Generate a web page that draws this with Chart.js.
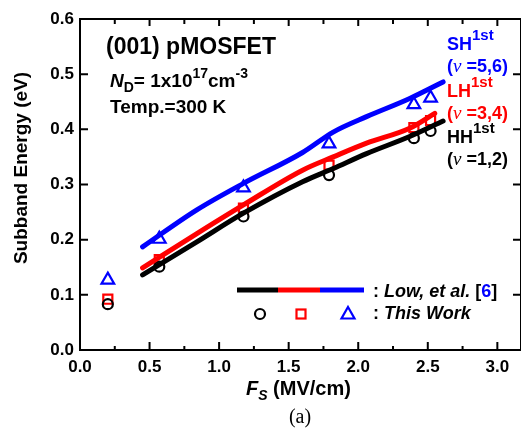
<!DOCTYPE html>
<html>
<head>
<meta charset="utf-8">
<script src="https://cdn.jsdelivr.net/npm/chart.js@4.4.1/dist/chart.umd.min.js"></script>
<style>
html, body { margin: 0; padding: 0; background: #fff; overflow: hidden; }
#chart { display: block; }
</style>
</head>
<body>
<canvas id="chart" width="521" height="437" style="width:521px;height:437px"></canvas>
<script>
// Low, et al. [6] -- solid curves
const lowFs   = [0.45, 0.84, 1.175, 1.6, 1.82, 2.06, 2.37, 2.61];
const lowHH   = [0.136, 0.196, 0.248, 0.305, 0.329, 0.356, 0.387, 0.415];
const lowLHFs = [0.45, 0.84, 1.175, 1.6, 1.82, 2.06, 2.37, 2.55];
const lowLH   = [0.149, 0.211, 0.263, 0.326, 0.350, 0.375, 0.402, 0.429];
const lowSH   = [0.187, 0.254, 0.302, 0.358, 0.395, 0.423, 0.456, 0.486];

// This Work -- symbols
const workFs = [0.2, 0.57, 1.175, 1.79, 2.40, 2.52];
const workHH = [0.083, 0.151, 0.242, 0.317, 0.384, 0.397];
const workLH = [0.092, 0.164, 0.257, 0.335, 0.403, 0.416];
const workSH = [0.127, 0.201, 0.294, 0.374, 0.445, 0.457];

const xMinorTicks = [0.25, 0.75, 1.25, 1.75, 2.25, 2.75];
const xMajorTicks = [0.5, 1.0, 1.5, 2.0, 2.5, 3.0];
const yMajorTicks = [0.1, 0.2, 0.3, 0.4, 0.5];

const BLACK = '#000000', RED = '#ff0000', BLUE = '#0000ff';
const SANS = '"Liberation Sans", Arial, sans-serif';
const SERIF = '"Liberation Serif", "Times New Roman", serif';

const zip = (xs, ys) => xs.map((x, i) => ({ x: x, y: ys[i] }));

function curve(data, color) {
    return {
        data: data, showLine: true, borderColor: color, borderWidth: 5,
        pointRadius: 0, tension: 0.35, cubicInterpolationMode: 'monotone',
        borderCapStyle: 'round', borderJoinStyle: 'round'
    };
}
function symbols(data, color, style, r) {
    return {
        data: data, showLine: false, pointStyle: style, pointRadius: r,
        borderColor: color, backgroundColor: 'rgba(255,255,255,0)', pointBorderWidth: 2.2
    };
}

// draw a run of text pieces with different fonts / offsets
function textRuns(ctx, x, y, parts) {
    parts.forEach(p => {
        ctx.font = p.f;
        ctx.fillStyle = p.c || BLACK;
        ctx.fillText(p.t, x, y + (p.dy || 0));
        x += ctx.measureText(p.t).width;
    });
}

const framePlugin = {
    id: 'frame',
    afterDraw(chart) {
        const ctx = chart.ctx;
        const a = chart.chartArea;
        const xs = chart.scales.x, ys = chart.scales.y;
        ctx.save();
        ctx.strokeStyle = BLACK;
        ctx.lineWidth = 2;
        ctx.beginPath();
        ctx.moveTo(a.left, a.top); ctx.lineTo(a.right + 1, a.top);
        ctx.moveTo(a.left, a.top - 1); ctx.lineTo(a.left, a.bottom + 1);
        ctx.moveTo(a.left - 1, a.bottom); ctx.lineTo(a.right + 1, a.bottom);
        ctx.moveTo(a.right, a.top); ctx.lineTo(a.right, a.bottom);
        // inward ticks
        xMajorTicks.forEach(v => {
            const p = xs.getPixelForValue(v);
            ctx.moveTo(p, a.bottom); ctx.lineTo(p, a.bottom - 8);
            ctx.moveTo(p, a.top); ctx.lineTo(p, a.top + 7);
        });
        xMinorTicks.forEach(v => {
            const p = xs.getPixelForValue(v);
            ctx.moveTo(p, a.bottom); ctx.lineTo(p, a.bottom - 4);
            ctx.moveTo(p, a.top); ctx.lineTo(p, a.top + 5);
        });
        yMajorTicks.forEach(v => {
            const p = ys.getPixelForValue(v);
            ctx.moveTo(a.left, p); ctx.lineTo(a.left + 8, p);
            ctx.moveTo(a.right, p); ctx.lineTo(a.right - 8, p);
        });
        ctx.stroke();

        // legend
        ctx.lineWidth = 5;
        [[237, 278, BLACK], [278, 320, RED], [320, 364, BLUE]].forEach(s => {
            ctx.strokeStyle = s[2];
            ctx.beginPath(); ctx.moveTo(s[0], 290); ctx.lineTo(s[1], 290); ctx.stroke();
        });
        ctx.lineWidth = 2.2;
        ctx.strokeStyle = BLACK;
        ctx.beginPath(); ctx.arc(260, 314, 5, 0, Math.PI * 2); ctx.stroke();
        ctx.strokeStyle = RED;
        ctx.strokeRect(296.5, 309.5, 9, 9);
        ctx.strokeStyle = BLUE;
        ctx.beginPath(); ctx.moveTo(348, 307); ctx.lineTo(354.5, 318.5); ctx.lineTo(341.5, 318.5); ctx.closePath(); ctx.stroke();

        ctx.textBaseline = 'alphabetic';
        ctx.textAlign = 'left';
        const b18 = 'bold 18px ' + SANS, bi18 = 'italic bold 18px ' + SANS;
        textRuns(ctx, 373, 297, [
            { t: ': ', f: b18 }, { t: 'Low, et al.', f: bi18 }, { t: ' [', f: b18 },
            { t: '6', f: b18, c: BLUE }, { t: ']', f: b18 }
        ]);
        textRuns(ctx, 373, 319, [{ t: ': ', f: b18 }, { t: 'This Work', f: bi18 }]);

        // annotations
        textRuns(ctx, 106, 54, [{ t: '(001) pMOSFET', f: 'bold 23px ' + SANS }]);
        const b19 = 'bold 19px ' + SANS, s14 = 'bold 14px ' + SANS;
        textRuns(ctx, 110, 87, [
            { t: 'N', f: 'italic bold 19px ' + SANS }, { t: 'D', f: s14, dy: 5 },
            { t: '= 1x10', f: b19 }, { t: '17', f: s14, dy: -9 },
            { t: 'cm', f: b19 }, { t: '-3', f: s14, dy: -9 }
        ]);
        textRuns(ctx, 110, 113, [{ t: 'Temp.=300 K', f: b19 }]);

        const b18r = 'bold 18px ' + SANS, s15 = 'bold 15px ' + SANS, nu = 'italic 19px ' + SERIF;
        const band = (y, name, nums, c) => {
            textRuns(ctx, 447, y, [{ t: name, f: b18r, c: c }, { t: '1st', f: s15, c: c, dy: -10 }]);
            textRuns(ctx, 447, y + 22, [
                { t: '(', f: b18r, c: c }, { t: '\u03bd', f: nu, c: c }, { t: ' =' + nums + ')', f: b18r, c: c }
            ]);
        };
        band(50, 'SH', '5,6', BLUE);
        band(97, 'LH', '3,4', RED);
        band(143, 'HH', '1,2', BLACK);

        // axis titles
        ctx.save();
        ctx.translate(27, 168);
        ctx.rotate(-Math.PI / 2);
        ctx.textAlign = 'center';
        ctx.font = b19;
        ctx.fillStyle = BLACK;
        ctx.fillText('Subband Energy (eV)', 0, 0);
        ctx.restore();

        textRuns(ctx, 246, 395, [
            { t: 'F', f: 'italic bold 20px ' + SANS }, { t: 'S', f: 'italic bold 14px ' + SANS, dy: 5 },
            { t: ' (MV/cm)', f: 'bold 20px ' + SANS }
        ]);
        ctx.textAlign = 'center';
        ctx.font = '20px ' + SERIF;
        ctx.fillText('(a)', 300, 423);
        ctx.restore();
    }
};

const tickFont = { family: SANS, size: 17, weight: 'bold' };

new Chart(document.getElementById('chart'), {
    type: 'scatter',
    data: {
        datasets: [
            curve(zip(lowFs, lowHH), BLACK),
            curve(zip(lowLHFs, lowLH), RED),
            curve(zip(lowFs, lowSH), BLUE),
            symbols(zip(workFs, workHH), BLACK, 'circle', 5),
            symbols(zip(workFs, workLH), RED, 'rect', 6.4),
            symbols(zip(workFs, workSH), BLUE, 'triangle', 7.3)
        ]
    },
    options: {
        responsive: false,
        animation: false,
        layout: { autoPadding: false, padding: { top: 19, right: 0, left: 0, bottom: 0 } },
        plugins: { legend: { display: false }, tooltip: { enabled: false } },
        scales: {
            x: {
                type: 'linear', min: 0, max: 3.17,
                afterFit: s => { s.height = 87; s.paddingLeft = 0; s.paddingRight = 0; },
                grid: { display: false, drawTicks: false },
                border: { display: false },
                ticks: {
                    stepSize: 0.5, includeBounds: false, padding: 7, maxRotation: 0,
                    color: BLACK, font: tickFont, callback: v => v.toFixed(1)
                }
            },
            y: {
                type: 'linear', min: 0, max: 0.6,
                afterFit: s => { s.width = 80; s.paddingTop = 0; s.paddingBottom = 0; },
                grid: { display: false, drawTicks: false },
                border: { display: false },
                ticks: {
                    stepSize: 0.1, padding: 6,
                    color: BLACK, font: tickFont, callback: v => v.toFixed(1)
                }
            }
        }
    },
    plugins: [framePlugin]
});
</script>
</body>
</html>
